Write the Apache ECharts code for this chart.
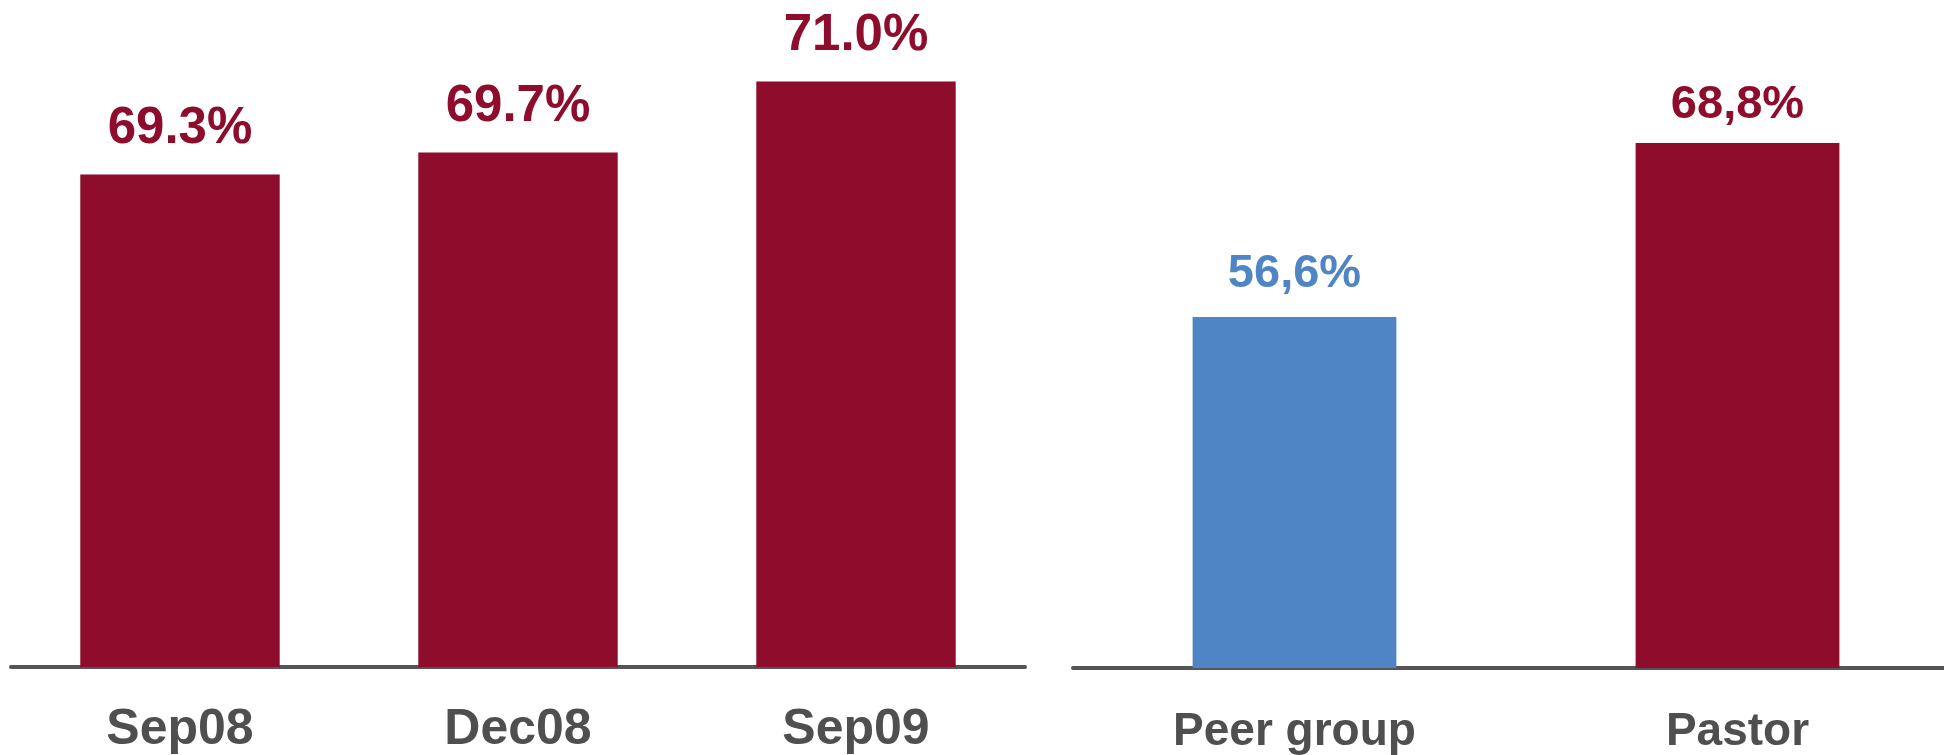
<!DOCTYPE html>
<html>
<head>
<meta charset="utf-8">
<script src="https://cdn.jsdelivr.net/npm/echarts@6/dist/echarts.min.js"></script>
<style>
html,body{margin:0;padding:0;background:#fff;overflow:hidden;}
#chart{width:1962px;height:755px;}
</style>
</head>
<body>
<div id="chart"></div>
<script>
const leftCategories = ['Sep08', 'Dec08', 'Sep09'];
const leftValues = [69.3, 69.7, 71.0];
const leftLabels = ['69.3%', '69.7%', '71.0%'];

const rightCategories = ['Peer group', 'Pastor'];
const rightValues = [56.6, 68.8];
const rightLabels = ['56,6%', '68,8%'];

const RED = '#8E0C2C';
const BLUE = '#4F85C5';
const AXIS_GRAY = '#555555';
const TEXT_GRAY = '#4F4F4F';
const FONT = '"Liberation Sans", Arial, sans-serif';

const rightColors = [BLUE, RED];
const rightLabelDistance = [20, 14];

const chart = echarts.init(document.getElementById('chart'), null, {renderer: 'canvas'});

const option = {
  animation: false,
  backgroundColor: '#ffffff',
  grid: [
    {left: 11, width: 1014, top: 26.8, bottom: 86.3},
    {left: 1073, width: 886, top: 54.6, bottom: 85.5}
  ],
  xAxis: [
    {
      type: 'category', gridIndex: 0, data: leftCategories,
      axisLine: {show: true, lineStyle: {color: AXIS_GRAY, width: 4, cap: 'round'}},
      axisTick: {show: false},
      axisLabel: {color: TEXT_GRAY, fontSize: 50, fontWeight: 'bold', fontFamily: FONT, margin: 38}
    },
    {
      type: 'category', gridIndex: 1, data: rightCategories,
      axisLine: {show: true, lineStyle: {color: AXIS_GRAY, width: 4, cap: 'round'}},
      axisTick: {show: false},
      axisLabel: {color: TEXT_GRAY, fontSize: 46, fontWeight: 'bold', fontFamily: FONT, margin: 41}
    }
  ],
  yAxis: [
    {type: 'value', gridIndex: 0, min: 60.29, max: 72, show: false, splitLine: {show: false}},
    {type: 'value', gridIndex: 1, min: 32, max: 75, show: false, splitLine: {show: false}}
  ],
  series: [
    {
      type: 'bar', xAxisIndex: 0, yAxisIndex: 0,
      data: leftValues,
      barWidth: '59%',
      itemStyle: {color: RED},
      label: {
        show: true, position: 'top', distance: 20,
        color: RED, fontSize: 51, fontWeight: 'bold', fontFamily: FONT,
        formatter: p => leftLabels[p.dataIndex]
      }
    },
    {
      type: 'bar', xAxisIndex: 1, yAxisIndex: 1,
      data: rightValues.map((v, i) => ({
        value: v,
        itemStyle: {color: rightColors[i]},
        label: {color: rightColors[i], distance: rightLabelDistance[i]}
      })),
      barWidth: '46%',
      label: {
        show: true, position: 'top',
        fontSize: 47, fontWeight: 'bold', fontFamily: FONT,
        formatter: p => rightLabels[p.dataIndex]
      }
    }
  ]
};

chart.setOption(option);
</script>
</body>
</html>
